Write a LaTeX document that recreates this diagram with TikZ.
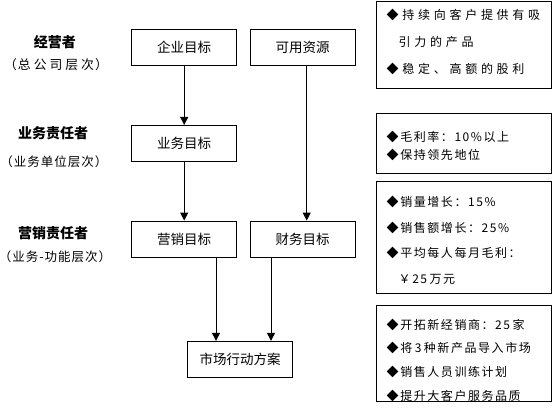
\documentclass[tikz,border=0pt]{standalone}
\usepackage{fontspec}
\setmainfont{Noto Sans CJK SC}
\newfontfamily\wideinfo[LetterSpace=31]{Noto Sans CJK SC}
\newfontfamily\narrowinfo[LetterSpace=13]{Noto Sans CJK SC}
\newfontfamily\lblcjk[LetterSpace=8]{Noto Sans CJK SC}
\newcommand\gapsp{\hspace{2.5pt}}
\newcommand\lblgap{\kern3pt}
\usetikzlibrary{arrows.meta}
\tikzset{
  goal/.style={draw, line width=0.9pt, minimum width=105pt, minimum height=36pt, inner sep=0pt, font=\fontsize{13.5}{16}\selectfont},
  infobox/.style={draw, line width=0.9pt, minimum width=175.5pt, inner sep=0pt},
  infotext/.style={anchor=west, align=left, inner sep=0pt},
  role/.style={inner sep=0pt, font=\fontsize{14}{16}\selectfont\bfseries},
  level/.style={inner sep=0pt, font=\lblcjk\fontsize{12.5}{15}\selectfont},
  flow/.style={line width=1pt, -{Triangle[length=8pt,width=8pt]}}
}
\begin{document}
\begin{tikzpicture}[x=1pt,y=-1pt]
\useasboundingbox (0,0) rectangle (557,420);
% left labels
\node[role] (r1) at (55,42) {经营者};
\node[level, font=\lblcjk\fontsize{12.8}{15}\selectfont] (l1) at (56,65)
  {（总\lblgap 公\lblgap 司\lblgap 层\lblgap 次）};
\node[role] (r2) at (53,133) {业务责任者};
\node[level] (l2) at (54,162) {（业务单位层次）};
\node[role] (r3) at (53,233) {营销责任者};
\node[level] (l3) at (55,257) {（业务-功能层次）};
% goal boxes
\node[goal] (qy) at (184.2,47.2) {企业目标};
\node[goal] (ky) at (302.5,47.2) {可用资源};
\node[goal] (yw) at (184.2,143.4) {业务目标};
\node[goal] (yx) at (184.2,239) {营销目标};
\node[goal] (cw) at (302.5,239) {财务目标};
\node[goal] (sc) at (240,359.3) {市场行动方案};
% connectors
\draw[flow] (qy.south) -- (yw.north);
\draw[flow] (yw.south) -- (yx.north);
\draw[flow] ([xshift=4.2pt]ky.south) -- ([xshift=4.2pt]cw.north);
\draw[flow] ([xshift=31.8pt]yx.south) -- ([xshift=-24pt]sc.north);
\draw[flow] ([xshift=-31.5pt]cw.south) -- ([xshift=31pt]sc.north);
% info boxes
\node[infobox, minimum height=86.6pt] (b1) at (463.8,45) {};
\node[infobox, minimum height=60pt] (b2) at (463.8,143.3) {};
\node[infobox, minimum height=111.6pt] (b3) at (463.8,237.5) {};
\node[infobox, minimum height=96.7pt] (b4) at (463.8,353.3) {};
\node[infotext, font=\wideinfo\fontsize{12}{26.7}\selectfont] (t1) at (386.5,42)
  {◆持续向客户提供有吸\\\phantom{◆}引力的产品\\◆稳定、高额的股利};
\node[infotext, font=\narrowinfo\fontsize{12}{17.7}\selectfont] (t2) at (386.5,146)
  {◆毛利率：10\%以上\\◆保持领先地位};
\node[infotext, font=\narrowinfo\fontsize{12}{25.5}\selectfont] (t3) at (386.5,240.5)
  {◆销量增长：15\%\\◆销售额增长：25\%\\◆平均每人每月毛利：\\\phantom{◆}￥25\gapsp 万元};
\node[infotext, font=\narrowinfo\fontsize{12}{23.7}\selectfont] (t4) at (386.5,360)
  {◆开拓新经销商：25\gapsp 家\\◆将\gapsp 3\gapsp 种新产品导入市场\\◆销售人员训练计划\\◆提升大客户服务品质};
\end{tikzpicture}
\end{document}
